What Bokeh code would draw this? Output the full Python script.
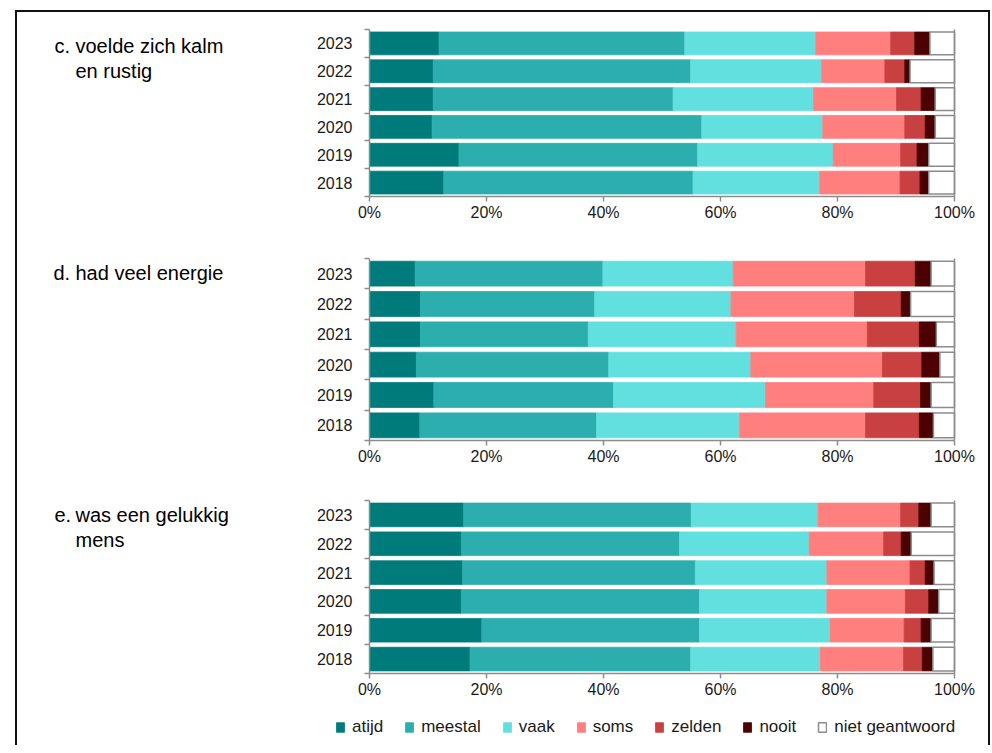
from bokeh.plotting import figure
from bokeh.models import (Range1d, FixedTicker, PrintfTickFormatter, Label,
                          Legend, LegendItem, ColumnDataSource, LinearAxis)
from bokeh.layouts import column
from bokeh.embed import file_html
from bokeh.resources import INLINE

# ---------------- data (rows: 2023 ... 2018, top to bottom) ----------------
years = ["2023", "2022", "2021", "2020", "2019", "2018"]
categories = ["atijd", "meestal", "vaak", "soms", "zelden", "nooit", "niet geantwoord"]
keys = ["atijd", "meestal", "vaak", "soms", "zelden", "nooit", "niet"]
colors = ["#007b7b", "#2daeae", "#62dfdf", "#ff7f7f", "#c84040", "#4c0000", "#ffffff"]

# c. voelde zich kalm en rustig
c_atijd   = [11.9, 10.9, 10.9, 10.7, 15.3, 12.7]
c_meestal = [42.0, 44.0, 41.0, 46.1, 40.8, 42.6]
c_vaak    = [22.4, 22.4, 24.0, 20.7, 23.2, 21.7]
c_soms    = [12.8, 10.8, 14.2, 14.0, 11.5, 13.7]
c_zelden  = [4.1, 3.4, 4.2, 3.5, 2.8, 3.4]
c_nooit   = [2.6, 0.9, 2.4, 1.7, 2.0, 1.5]
c_niet    = [4.2, 7.6, 3.3, 3.3, 4.4, 4.4]

# d. had veel energie
d_atijd   = [7.8, 8.7, 8.7, 8.0, 11.0, 8.6]
d_meestal = [32.1, 29.8, 28.7, 32.9, 30.7, 30.2]
d_vaak    = [22.3, 23.3, 25.3, 24.3, 26.0, 24.5]
d_soms    = [22.6, 21.1, 22.4, 22.5, 18.5, 21.5]
d_zelden  = [8.5, 8.0, 8.9, 6.7, 8.0, 9.2]
d_nooit   = [2.7, 1.6, 2.9, 3.1, 1.8, 2.4]
d_niet    = [4.0, 7.5, 3.1, 2.5, 4.0, 3.6]

# e. was een gelukkig mens
e_atijd   = [16.1, 15.7, 15.9, 15.7, 19.2, 17.2]
e_meestal = [38.9, 37.3, 39.8, 40.7, 37.2, 37.7]
e_vaak    = [21.7, 22.2, 22.5, 21.8, 22.4, 22.2]
e_soms    = [14.1, 12.7, 14.2, 13.4, 12.6, 14.2]
e_zelden  = [3.1, 3.0, 2.6, 4.0, 2.9, 3.2]
e_nooit   = [2.1, 1.7, 1.5, 1.7, 1.7, 1.8]
e_niet    = [4.0, 7.4, 3.5, 2.7, 4.0, 3.7]

x_ticks = [0, 20, 40, 60, 80, 100]

# ---------------- layout constants (page pixels) ----------------
FONT = "Liberation Sans"
AXIS_GREY = "#8c8c8c"
TEXT = "#1a1a1a"
FIG_X0, FIG_X1 = 17, 988          # figure spans inside the outer border
ZERO_X, HUNDRED_X = 369, 954      # page x of 0% and 100%
PPX = (HUNDRED_X - ZERO_X) / 100.0
FIG_W = FIG_X1 - FIG_X0

n = len(years)
ypos = [n - 0.5 - i for i in range(n)]


def xd(px):
    return (px - ZERO_X) / PPX


def make_panel(vals, fig_top, fig_bottom, frame_top, frame_bottom, labels, legend=False):
    ppu = (frame_bottom - frame_top) / n

    def yd(py):
        return (frame_bottom - py) / ppu

    p = figure(width=FIG_W, height=fig_bottom - fig_top,
               min_border=0, min_border_left=0, min_border_right=0,
               min_border_top=0, min_border_bottom=0,
               x_range=Range1d(xd(FIG_X0), xd(FIG_X1)),
               y_range=Range1d(yd(fig_bottom), yd(fig_top)),
               output_backend="svg", toolbar_location=None)
    p.outline_line_color = None
    p.xgrid.visible = False
    p.ygrid.visible = False
    p.background_fill_color = "white"
    p.border_fill_color = "white"

    data = dict(y=ypos)
    for k, v in zip(keys, vals):
        data[k] = v
    src = ColumnDataSource(data)
    rs = p.hbar_stack(keys, y="y", height=0.82, source=src,
                      fill_color=colors,
                      line_color=colors[:-1] + [AXIS_GREY],
                      line_width=[0.8] * 6 + [1.5])

    # x axis (percent)
    xa = p.xaxis[0]
    xa.fixed_location = 0
    xa.bounds = (0, 100)
    xa.ticker = FixedTicker(ticks=x_ticks)
    xa.formatter = PrintfTickFormatter(format="%d%%")
    xa.axis_line_color = AXIS_GREY
    xa.axis_line_width = 1.5
    xa.major_tick_line_color = AXIS_GREY
    xa.major_tick_line_width = 1.5
    xa.major_tick_out = 5
    xa.major_tick_in = 0
    xa.minor_tick_line_color = None
    xa.major_label_text_font = FONT
    xa.major_label_text_font_size = "16px"
    xa.major_label_text_color = TEXT
    xa.major_label_standoff = 2

    # y axis (years), ticks at the category boundaries
    ya = p.yaxis[0]
    ya.fixed_location = 0
    ya.bounds = (0, n)
    ya.ticker = FixedTicker(ticks=ypos, minor_ticks=list(range(n + 1)))
    ya.major_label_overrides = {y: yr for y, yr in zip(ypos, years)}
    ya.axis_line_color = AXIS_GREY
    ya.axis_line_width = 1.5
    ya.major_tick_line_color = None
    ya.major_tick_out = 0
    ya.major_tick_in = 0
    ya.minor_tick_line_color = AXIS_GREY
    ya.minor_tick_line_width = 1.5
    ya.minor_tick_out = 5
    ya.minor_tick_in = 0
    ya.major_label_text_font = FONT
    ya.major_label_text_font_size = "16px"
    ya.major_label_text_color = TEXT
    ya.major_label_standoff = 12

    # right-hand border line at 100%
    ra = LinearAxis(fixed_location=100, bounds=(0, n), ticker=FixedTicker(ticks=[]),
                    axis_line_color=AXIS_GREY, axis_line_width=1.5,
                    major_tick_line_color=None, minor_tick_line_color=None,
                    major_label_text_alpha=0)
    p.add_layout(ra, "left")

    for px, py, txt in labels:
        p.add_layout(Label(x=xd(px), y=yd(py), text=txt, text_baseline="middle",
                           text_align="left", text_font=FONT,
                           text_font_size="20px", text_color="#000000"))

    if legend:
        items = [LegendItem(label=c, renderers=[r]) for c, r in zip(categories, rs)]
        lg = Legend(items=items, orientation="horizontal",
                    location=(335 - FIG_X0, fig_bottom - 737),
                    glyph_width=10, glyph_height=12,
                    label_standoff=7, spacing=21, padding=0, margin=0,
                    border_line_color=None, background_fill_alpha=0,
                    label_text_font=FONT, label_text_font_size="17px",
                    label_text_color=TEXT, label_height=20)
        p.add_layout(lg)
    return p


pc = make_panel([c_atijd, c_meestal, c_vaak, c_soms, c_zelden, c_nooit, c_niet],
                12, 245, 29, 196,
                labels=[(54, 45, "c."), (75, 45, "voelde zich kalm"), (75, 70, "en rustig")])
pd_ = make_panel([d_atijd, d_meestal, d_vaak, d_soms, d_zelden, d_nooit, d_niet],
                 245, 485, 258, 440,
                 labels=[(53, 272, "d."), (75, 272, "had veel energie")])
pe = make_panel([e_atijd, e_meestal, e_vaak, e_soms, e_zelden, e_nooit, e_niet],
                485, 745, 500, 673,
                labels=[(54, 514, "e."), (75, 514, "was een gelukkig"), (75, 539, "mens")],
                legend=True)

layout = column(pc, pd_, pe, margin=(10, 0, 0, 15),
                styles={"border": "2px solid #111111", "border-bottom": "none"})

open("out.html", "w").write(file_html(layout, INLINE))
